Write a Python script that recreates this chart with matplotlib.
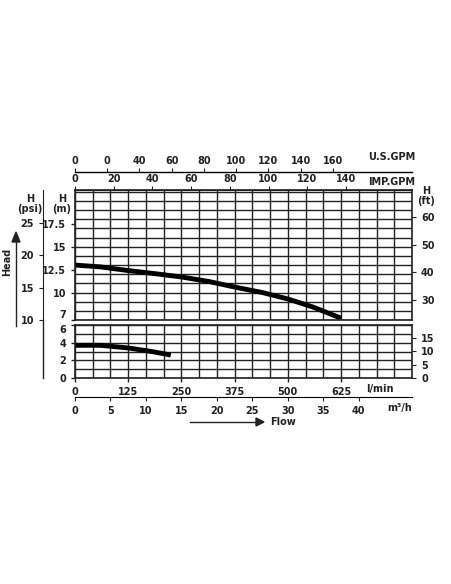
import numpy as np
import matplotlib.pyplot as plt
from matplotlib.lines import Line2D

plt.rcParams['font.family'] = ['DejaVu Sans']
plt.rcParams['font.weight'] = 'bold'

# pump curves (flow l/min, head m)
upper_flow = [0, 60, 125, 190, 250, 315, 375, 440, 500, 560, 625]
upper_head = [13.0, 12.8, 12.4, 12.05, 11.7, 11.2, 10.6, 10.0, 9.3, 8.4, 7.2]
lower_flow = [0, 60, 125, 180, 225]
lower_head = [3.7, 3.7, 3.4, 3.0, 2.6]

XMAX = 19 * 125 / 3
col = '#222222'

fig = plt.figure(figsize=(4.52, 5.84), dpi=100)
W, H = 452, 584
def box(l, t, r, b):
    return [l / W, (H - b) / H, (r - l) / W, (b - t) / H]

ax_up = fig.add_axes(box(75, 190, 412, 320))
ax_lo = fig.add_axes(box(75, 325, 412, 378))

xgrid = np.arange(0, XMAX + 1, 125 / 3)
for ax, ylo, yhi in [(ax_up, 7, 21.2), (ax_lo, 0, 6)]:
    ax.set_xlim(0, XMAX)
    ax.set_ylim(ylo, yhi)
    for x in xgrid:
        ax.axvline(x, color=col, lw=1.0)
    for y in np.arange(ylo, yhi + 0.01, 1):
        ax.axhline(y, color=col, lw=1.0)
    for s in ax.spines.values():
        s.set_linewidth(1.2)
        s.set_color(col)
    ax.tick_params(labelsize=7, colors=col, length=3, width=1)

ax_up.plot(upper_flow, upper_head, color='black', lw=3.5, solid_capstyle='butt')
ax_lo.plot(lower_flow, lower_head, color='black', lw=3.5, solid_capstyle='butt')

ax_up.set_xticks([])
ax_up.set_yticks([7, 10, 12.5, 15, 17.5])
ax_up.set_yticklabels(['7', '10', '12.5', '15', '17.5'])
ax_lo.set_yticks([0, 2, 4, 6])
ax_lo.set_xticks([0, 125, 250, 375, 500, 625])
ax_lo.get_yticklabels()[-1].set_va('top')
ax_up.get_yticklabels()[0].set_va('bottom')

# right ft axes
m2ft = (lambda m: m * 3.281, lambda f: f / 3.281)
r1 = ax_up.secondary_yaxis('right', functions=m2ft)
r1.set_yticks([30, 40, 50, 60])
r2 = ax_lo.secondary_yaxis('right', functions=m2ft)
r2.set_yticks([0, 5, 10, 15])
for r in (r1, r2):
    r.tick_params(labelsize=7, colors=col, length=3)
    r.spines['right'].set_visible(False)

# psi axis
psi = ax_up.secondary_yaxis(-0.095, functions=(lambda m: m / 0.703, lambda p: p * 0.703))
psi.set_yticks([10, 15, 20, 25])
psi.tick_params(labelsize=7, colors=col, length=3)
psi.spines['left'].set_color(col)
fig.add_artist(Line2D([43 / W, 43 / W], [(H - 320) / H, (H - 378) / H], color=col, lw=1, transform=fig.transFigure))

# top flow axes
imp = ax_up.secondary_xaxis('top', functions=(lambda l: l / 4.546, lambda g: g * 4.546))
imp.set_xticks(np.arange(0, 141, 20))
us = ax_up.secondary_xaxis(18 / 130 + 1, functions=(lambda l: l / 3.785, lambda g: g * 3.785))
us.set_xticks([0, 20, 40, 60, 80, 100, 120, 140, 160])
us.set_xticklabels(['0', '0', '40', '60', '80', '100', '120', '140', '160'])
for a in (imp, us):
    a.tick_params(labelsize=7, colors=col, length=3, pad=1)
us.spines['top'].set_linewidth(1)

# bottom m3/h axis
m3 = ax_lo.secondary_xaxis(-19 / 53, functions=(lambda l: l * 0.06, lambda q: q / 0.06))
m3.set_xticks(np.arange(0, 41, 5))
m3.tick_params(labelsize=7, colors=col, length=3)

def t(x, y, s, **kw):
    fig.text(x / W, (H - y) / H, s, fontsize=7, color=col, ha='center', va='center', **kw)

t(392, 157, 'U.S.GPM')
t(392, 182, 'IMP.GPM')
t(380, 389, 'l/min')
t(400, 408, 'm³/h')
t(30, 204, 'H\n(psi)', linespacing=0.9)
t(62, 204, 'H\n(m)', linespacing=0.9)
t(426, 196, 'H\n(ft)', linespacing=0.9)
t(7, 262, 'Head', rotation=90)
t(283, 422, 'Flow')

fig.add_artist(Line2D([190 / W, 258 / W], [(H - 422) / H] * 2, color=col, lw=1, transform=fig.transFigure))
fig.patches.append(plt.Polygon([[256 / W, (H - 418) / H], [264 / W, (H - 422) / H], [256 / W, (H - 426) / H]],
                               closed=True, color=col, transform=fig.transFigure))
fig.add_artist(Line2D([16 / W, 16 / W], [(H - 326) / H, (H - 240) / H], color=col, lw=1, transform=fig.transFigure))
fig.patches.append(plt.Polygon([[12 / W, (H - 242) / H], [16 / W, (H - 232) / H], [20 / W, (H - 242) / H]],
                               closed=True, color=col, transform=fig.transFigure))

fig.savefig('out.png', dpi=100)
